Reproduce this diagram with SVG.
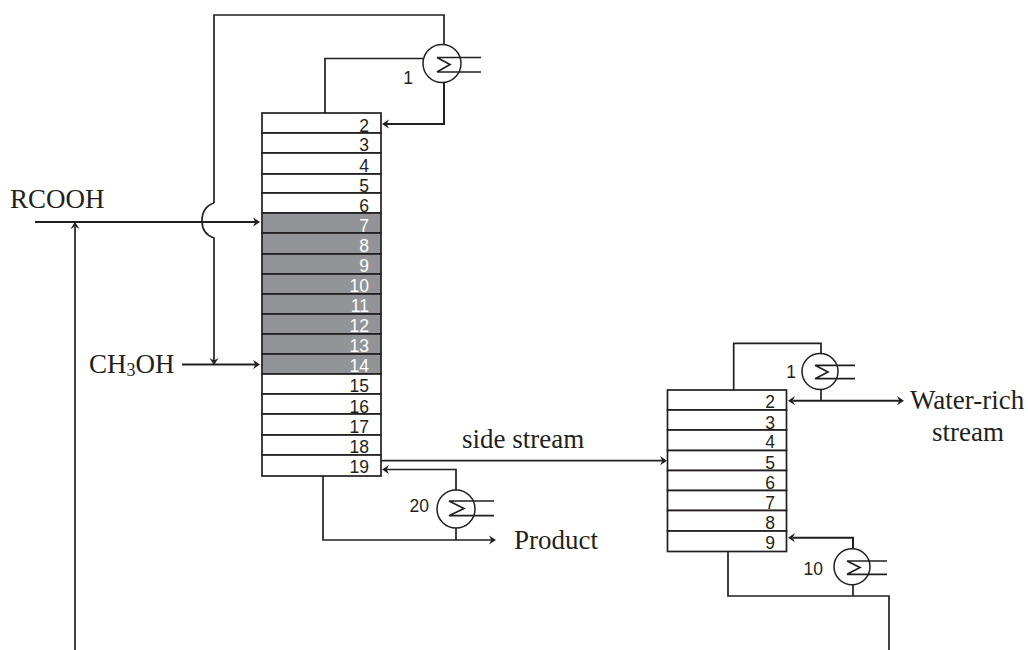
<svg xmlns="http://www.w3.org/2000/svg" width="1028" height="650" viewBox="0 0 1028 650">
<style>
.l{fill:none;stroke:#231f20;stroke-width:1.7}
.h{fill:none;stroke:#231f20;stroke-width:2}
.a{fill:#231f20;stroke:none}
.r{fill:#fff;stroke:#231f20;stroke-width:1.7}
.g{fill:#929497;stroke:#231f20;stroke-width:1.7}
.c{fill:#fff;stroke:#231f20;stroke-width:1.5}
.n{font:17.5px "Liberation Sans",Arial,sans-serif;fill:#231f20;text-anchor:end}
.w{fill:#fff}
.t{font:27px "Liberation Serif","Times New Roman",serif;fill:#231f20}
</style>
<defs>
<path id="ah" d="M0 0L-7 -4.6L-4.6 0L-7 4.6Z"/>
</defs>
<g id="connectors">
<path class="l" d="M444 44V15H214V203"/>
<path class="l" d="M214 203Q202 207 202 221Q202 234 214 238V362"/>
<path class="l" d="M325 113V58.5H423"/>
<path class="h" d="M444 82V124H386"/>
<path class="h" d="M35 222H256"/>
<path class="h" d="M182 364.5H256"/>
<path class="l" d="M75 650V227"/>
<path class="l" d="M456 490V469.5H386"/>
<path class="l" d="M456 528V540"/>
<path class="l" d="M323 476V540H492"/>
<path class="l" d="M381 460.7H663"/>
<path class="l" d="M821 353V343.3H733.7V390"/>
<path class="l" d="M821 389V400.7"/>
<path class="h" d="M793 400.7H900"/>
<path class="h" d="M853 548V537.7H793"/>
<path class="l" d="M853 585V596"/>
<path class="l" d="M728 552V596H889V650"/>
<use href="#ah" class="a" transform="translate(260,222)"/>
<use href="#ah" class="a" transform="translate(260,364.5)"/>
<use href="#ah" class="a" transform="translate(75,222) rotate(-90)"/>
<use href="#ah" class="a" transform="translate(214,365) rotate(90)"/>
<use href="#ah" class="a" transform="translate(382,124) rotate(180)"/>
<use href="#ah" class="a" transform="translate(382,469.5) rotate(180)"/>
<use href="#ah" class="a" transform="translate(496,540)"/>
<use href="#ah" class="a" transform="translate(667,460.7)"/>
<use href="#ah" class="a" transform="translate(788,400.7) rotate(180)"/>
<use href="#ah" class="a" transform="translate(904,400.7)"/>
<use href="#ah" class="a" transform="translate(788,537.7) rotate(180)"/>
</g>
<g id="column-1">
<rect class="r" x="262" y="113" width="119" height="20"/>
<rect class="r" x="262" y="133" width="119" height="20"/>
<rect class="r" x="262" y="153" width="119" height="21"/>
<rect class="r" x="262" y="174" width="119" height="19"/>
<rect class="r" x="262" y="193" width="119" height="20"/>
<rect class="g" x="262" y="213" width="119" height="20"/>
<rect class="g" x="262" y="233" width="119" height="21"/>
<rect class="g" x="262" y="254" width="119" height="20"/>
<rect class="g" x="262" y="274" width="119" height="20"/>
<rect class="g" x="262" y="294" width="119" height="20"/>
<rect class="g" x="262" y="314" width="119" height="20"/>
<rect class="g" x="262" y="334" width="119" height="20"/>
<rect class="g" x="262" y="354" width="119" height="20"/>
<rect class="r" x="262" y="374" width="119" height="20"/>
<rect class="r" x="262" y="394" width="119" height="20"/>
<rect class="r" x="262" y="414" width="119" height="21"/>
<rect class="r" x="262" y="435" width="119" height="20"/>
<rect class="r" x="262" y="455" width="119" height="21"/>
<text class="n" x="369" y="131.5">2</text>
<text class="n" x="369" y="150.5">3</text>
<text class="n" x="369" y="171.5">4</text>
<text class="n" x="369" y="191.5">5</text>
<text class="n" x="369" y="211.5">6</text>
<text class="n w" x="369" y="231.5">7</text>
<text class="n w" x="369" y="252">8</text>
<text class="n w" x="369" y="272">9</text>
<text class="n w" x="369" y="292">10</text>
<text class="n w" x="369" y="312">11</text>
<text class="n w" x="369" y="332">12</text>
<text class="n w" x="369" y="352">13</text>
<text class="n w" x="369" y="372">14</text>
<text class="n" x="369" y="391.5">15</text>
<text class="n" x="369" y="412.5">16</text>
<text class="n" x="369" y="432.5">17</text>
<text class="n" x="369" y="452.5">18</text>
<text class="n" x="369" y="473">19</text>
</g>
<g id="column-2">
<rect class="r" x="667.5" y="390" width="119" height="20"/>
<rect class="r" x="667.5" y="410" width="119" height="20"/>
<rect class="r" x="667.5" y="430" width="119" height="20.5"/>
<rect class="r" x="667.5" y="450.5" width="119" height="20"/>
<rect class="r" x="667.5" y="470.5" width="119" height="20"/>
<rect class="r" x="667.5" y="490.5" width="119" height="20"/>
<rect class="r" x="667.5" y="510.5" width="119" height="20.5"/>
<rect class="r" x="667.5" y="531" width="119" height="20.5"/>
<text class="n" x="775" y="407.5">2</text>
<text class="n" x="775" y="428.5">3</text>
<text class="n" x="775" y="447.5">4</text>
<text class="n" x="775" y="468.5">5</text>
<text class="n" x="775" y="488.5">6</text>
<text class="n" x="775" y="508.5">7</text>
<text class="n" x="775" y="528.5">8</text>
<text class="n" x="775" y="548.5">9</text>
</g>
<g id="condenser-1">
<circle class="c" cx="442" cy="63.5" r="19"/>
<path class="l" d="M437 57.5H481M437 72H481M437 57.5L450 64.5L437 72"/>
<text class="n" x="413" y="84">1</text>
</g>
<g id="reboiler-20">
<circle class="c" cx="456" cy="509" r="19"/>
<path class="l" d="M449 501H494M449 515.7H494M449 501L464 508.5L449 515.7"/>
<text class="n" x="429" y="512">20</text>
</g>
<g id="condenser-2">
<circle class="c" cx="820" cy="371.5" r="18"/>
<path class="l" d="M815 365.3H855M815 378.7H855M815 365.3L828 372L815 378.7"/>
<text class="n" x="796" y="378">1</text>
</g>
<g id="reboiler-10">
<circle class="c" cx="852" cy="566.7" r="18"/>
<path class="l" d="M847 561H887M847 574.3H887M847 561L860 567.5L847 574.3"/>
<text class="n" x="823" y="575">10</text>
</g>
<g id="labels">
<text class="t" x="10" y="208">RCOOH</text>
<text class="t" x="89" y="372.5">CH<tspan font-size="18" dy="3">3</tspan><tspan dy="-3">OH</tspan></text>
<text class="t" x="462" y="447.5">side stream</text>
<text class="t" x="514" y="549">Product</text>
<text class="t" x="910" y="408.5">Water-rich</text>
<text class="t" x="968" y="440.5" text-anchor="middle">stream</text>
</g>
</svg>
